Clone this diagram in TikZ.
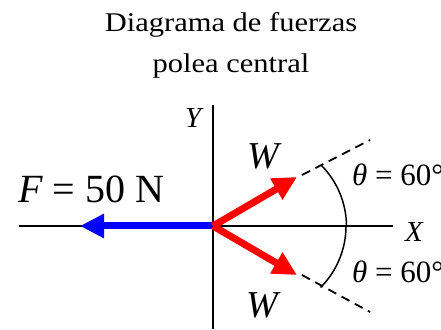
\documentclass[tikz,border=0pt]{standalone}
\usepackage{fontspec}
\setmainfont{Liberation Serif}
\newfontfamily\titlefont[FakeStretch=1.13]{Liberation Serif}
\usetikzlibrary{arrows.meta}
\begin{document}
\begin{tikzpicture}[x=1pt,y=1pt,
  axis/.style={line width=2pt,black},
  force/.style={line width=7pt,-{Triangle[length=24pt,width=23pt]}},
  guide/.style={line width=1.8pt,dash pattern=on 9pt off 6pt},
  arcline/.style={line width=1.5pt},
  titletext/.style={anchor=base,inner sep=0pt,font=\titlefont\fontsize{27}{27}\selectfont},
  lbl/.style={anchor=base west,inner sep=0pt}
]
\useasboundingbox (0,0) rectangle (441,329);
% coordinates
\coordinate (O) at (213,103);
\coordinate (ytop) at (213,224);
\coordinate (ybot) at (213,0);
\coordinate (xl) at (19,103);
\coordinate (xr) at (393,103);
\coordinate (Ftip) at (80,103);
\coordinate (W1) at (297,152);
\coordinate (W2) at (297,54);
\coordinate (d1s) at (302,154);
\coordinate (d1e) at (370,189);
\coordinate (d2s) at (302,54);
\coordinate (d2e) at (370,17);
\coordinate (a1) at (321,164);
\coordinate (amid) at (346,103);
% axes
\draw[axis] (ybot) -- (ytop);
\draw[axis] (xl) -- (xr);
% forces
\draw[force,blue] (O) -- (Ftip);
\draw[force,red] (O) -- (W1);
\draw[force,red] (O) -- (W2);
% guides
\draw[guide] (d1s) -- (d1e);
\draw[guide] (d2s) -- (d2e);
\draw[arcline] (a1) arc[start angle=45,end angle=0,radius=87];
\draw[arcline] (amid) arc[start angle=0,end angle=-45,radius=87];
% texts
\node[titletext] (t1) at (231,297) {Diagrama de fuerzas};
\node[titletext] (t2) at (231,256) {polea central};
\node[lbl,font=\itshape\fontsize{29}{29}\selectfont] (ylbl) at (185,201) {Y};
\node[lbl,font=\itshape\fontsize{29}{29}\selectfont] (xlbl) at (405,87) {X};
\node[lbl,font=\itshape\fontsize{38}{38}\selectfont] (w1lbl) at (247,160) {W};
\node[lbl,font=\itshape\fontsize{38}{38}\selectfont] (w2lbl) at (246,12) {W};
\node[lbl,font=\fontsize{40}{40}\selectfont] (flbl) at (18,126) {\textit{F} = 50 N};
\node[lbl,font=\fontsize{31}{31}\selectfont] (th1) at (352,143) {\textit{θ} = 60°};
\node[lbl,font=\fontsize{31}{31}\selectfont] (th2) at (352,47) {\textit{θ} = 60°};
\end{tikzpicture}
\end{document}
